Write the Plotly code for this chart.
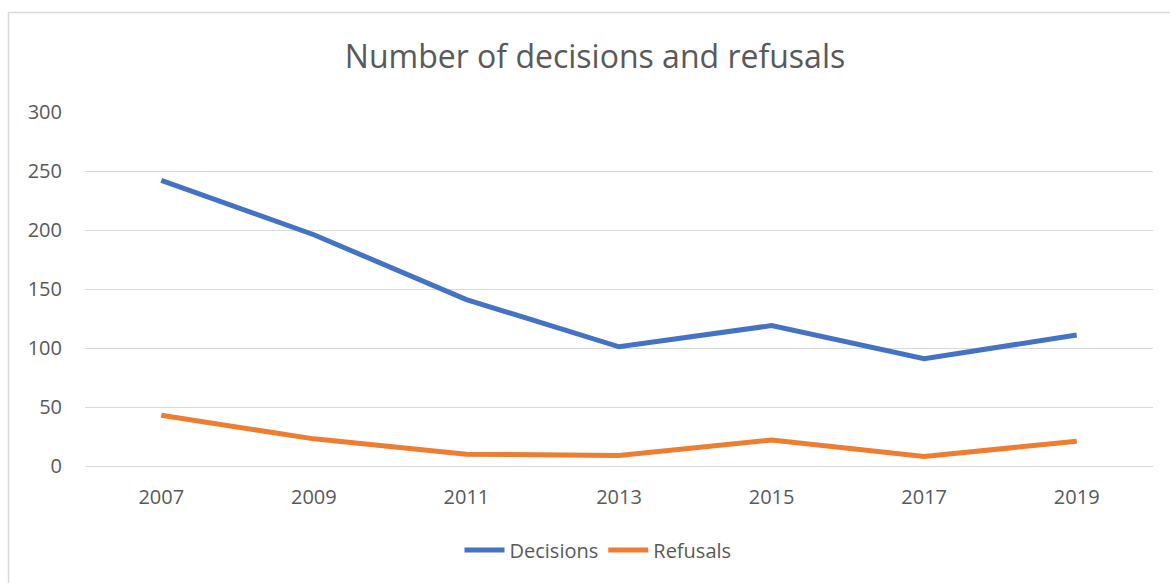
import plotly.graph_objects as go

years = ["2007", "2009", "2011", "2013", "2015", "2017", "2019"]
decisions = [242, 196, 141, 101, 119, 91, 111]
refusals = [43, 23, 10, 9, 22, 8, 21]

FONT = "Open Sans"
GREY = "#595959"

fig = go.Figure()
fig.add_trace(go.Scatter(x=years, y=decisions, mode="lines", name="Decisions",
                         line=dict(color="#4472C4", width=5)))
fig.add_trace(go.Scatter(x=years, y=refusals, mode="lines", name="Refusals",
                         line=dict(color="#ED7D31", width=5)))

L, R, T, B = 85, 17, 112, 117
W, H = 1170, 583
pw, ph = W - L - R, H - T - B

def px_x(p):
    return (p - L) / pw

def px_y(p):
    return (H - B - p) / ph

fig.update_layout(
    width=W, height=H,
    margin=dict(l=L, r=R, t=T, b=B),
    paper_bgcolor="white", plot_bgcolor="white",
    font=dict(family=FONT, color=GREY, size=20),
    title=dict(text="Number of decisions and refusals", x=595 / W, xanchor="center",
               y=1 - 57 / H, yanchor="middle", xref="container", yref="container",
               font=dict(size=32, color=GREY, family=FONT)),
    xaxis=dict(type="category", range=[-0.5, 6.5], showgrid=False, showline=False,
               zeroline=False, ticks="", ticklabelstandoff=17,
               tickfont=dict(size=20, color=GREY)),
    yaxis=dict(range=[0, 300], dtick=50, showgrid=True, gridcolor="#D9D9D9", gridwidth=1.3,
               zeroline=True, zerolinecolor="#D9D9D9", zerolinewidth=1.3,
               showline=False, ticks="", ticklabelstandoff=22,
               tickfont=dict(size=20, color=GREY)),
    legend=dict(orientation="h", x=px_x(598), xanchor="center", y=px_y(550), yanchor="middle",
                font=dict(size=20, color=GREY), itemwidth=40, traceorder="normal"),
    showlegend=True,
    shapes=[
        dict(type="rect", xref="paper", yref="paper",
             x0=px_x(8.5), x1=px_x(1180), y0=px_y(600), y1=px_y(12.5),
             line=dict(color="#D9D9D9", width=1.5), fillcolor="rgba(0,0,0,0)", layer="below"),
    ],
)

fig.write_html("out.html")
